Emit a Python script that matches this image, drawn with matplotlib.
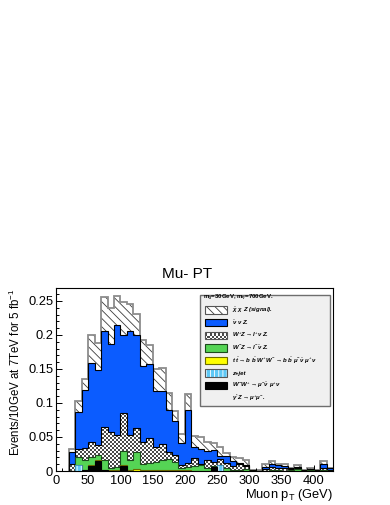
import numpy as np
import matplotlib
matplotlib.use("Agg")
import matplotlib.pyplot as plt
from matplotlib.patches import Rectangle
from matplotlib.colors import ListedColormap

plt.rcParams['font.family'] = ['Liberation Sans', 'DejaVu Sans']
plt.rcParams['mathtext.fontset'] = 'custom'
plt.rcParams['mathtext.rm'] = 'Liberation Sans'
plt.rcParams['mathtext.it'] = 'Liberation Sans:italic:bold'
plt.rcParams['mathtext.bf'] = 'Liberation Sans:bold'
plt.rcParams['hatch.linewidth'] = 0.6

# 10 GeV bins, 20 -> 430 GeV
edges = np.arange(20, 440, 10)

# per-sample contributions (events / 10 GeV)
signal = [.005, .017, .016, .041, .040, .050, .052, .042, .048, .040, .031, .038, .027, .033,
          .034, .026, .015, .014, .023, .016, .017, .013, .010, .014, .005, .005, .007, .007,
          .001, .0005, .004, .003, .002, .004, .001, .003, .001, .002, 0, .003, 0]
nunuz = [.017, .053, .085, .116, .110, .141, .129, .162, .115, .153, .137, .112, .110, .081,
         .078, .061, .049, .032, .078, .016, .023, .014, .018, .005, .010, .008, .002, .001,
         .0005, .0005, .003, .005, .005, .003, .001, .001, .001, 0, .001, .006, .003]
wpz = [.011, .012, .018, .022, .015, .049, .053, .047, .055, .037, .035, .032, .036, .023,
       .024, .011, .011, .004, .006, .012, .001, .012, .005, .008, .008, .006, .008, .005,
       .0005, 0, .003, .005, .003, .004, .001, .002, 0, .002, 0, .004, .001]
wmz = [0, .012, .014, .012, .007, .014, .004, .005, .021, .014, .025, .009, .011, .012,
       .014, .016, .012, .004, .005, .007, .009, .004, .002, 0, .004, .001, .002, .003,
       0, 0, 0, .001, .001, 0, .002, .003, 0, .001, 0, .001, 0]
ttbar = [0, 0, .001, .002, .002, .001, .001, .001, .002, .002, .003, .002, .001, .001,
         .002, .001, .001, .001, .001, 0, 0, 0, 0, 0, 0, 0, 0, 0,
         0, 0, 0, 0, 0, 0, 0, 0, 0, 0, 0, 0, 0]
zjet = [0, .009, 0, 0, 0, 0, 0, 0, 0, 0, 0, 0, 0, 0, 0, 0, 0, 0, 0, 0, 0, 0, 0, .009,
        0, 0, 0, 0, 0, 0, 0, 0, 0, 0, 0, 0, 0, 0, 0, 0, 0]
ww = [0, 0, .001, .007, .014, .001, 0, 0, .007, 0, 0, 0, 0, 0, 0, 0, 0, 0, 0, 0, 0, 0,
      .006, 0, 0, 0, 0, 0, 0, 0, 0, 0, 0, 0, 0, 0, 0, 0, 0, 0, 0]

legend_labels = [
    r"$\bar{\chi}\ \chi\ Z$ (signal).",
    r"$\bar{\nu}\ \nu\ Z$.",
    r"$W^{+} Z \rightarrow l^{+} \nu\ Z$.",
    r"$W^{-} Z \rightarrow l^{-} \bar{\nu}\ Z$.",
    r"$t\ \bar{t} \rightarrow b\ \bar{b}\ W^{+} W^{-} \rightarrow b\ \bar{b}\ \mu^{-} \bar{\nu}\ \mu^{+} \nu$",
    "z+jet",
    r"$W^{-} W^{+} \rightarrow \mu^{-} \bar{\nu}\ \mu^{+} \nu$",
    r"$\gamma^{*} Z \rightarrow \mu^{+} \mu^{-}$.",
]
legend_header = r"m$_{\chi}$=30GeV, m$_{\eta}$=700GeV."

XMAX, YMAX = 430, 0.269

fig = plt.figure(figsize=(3.9, 5.05), dpi=100)
ax = fig.add_axes([56/390, 34/505, 277/390, 183/505])

# THStack style: cumulative sums, drawn from the top down
stack = [ww, zjet, ttbar, wmz, wpz, nunuz, signal]
cums = np.cumsum(np.array(stack), axis=0)
c_ww, c_zj, c_tt, c_wmz, c_wpz, c_nnz, c_sig = cums

board = np.add.outer(np.arange(92), np.arange(139)) % 2
chk_cmap = ListedColormap(['white', '#4a4a4a'])


def checker(clip, z):
    img = ax.imshow(board, cmap=chk_cmap, extent=(0, XMAX, 0, YMAX), aspect='auto',
                    interpolation='nearest', origin='lower', zorder=z)
    img.set_clip_path(clip)


# signal (hatched)
ax.stairs(c_sig, edges, baseline=0, fill=True, facecolor='white', edgecolor='#3c3c3c',
          hatch='\\\\\\\\', linewidth=0, zorder=1)
ax.stairs(c_sig, edges, baseline=0, color='#8c8c8c', linewidth=1.3, zorder=1.1)
# nu nu Z
ax.stairs(c_nnz, edges, baseline=0, fill=True, facecolor='#0b5cff', edgecolor='black',
          linewidth=0.8, zorder=2)
# W+ Z checkered
p = ax.stairs(c_wpz, edges, baseline=0, fill=True, facecolor='white', linewidth=0, zorder=3)
checker(p, 3.05)
ax.stairs(c_wpz, edges, baseline=0, color='black', linewidth=0.8, zorder=3.1)
# W- Z
ax.stairs(c_wmz, edges, baseline=0, fill=True, facecolor='#55d455', edgecolor='#1c4a1c',
          linewidth=0.8, zorder=4)
# ttbar
ax.stairs(c_tt, edges, baseline=0, fill=True, facecolor='#ffff00', edgecolor='#6b6b00',
          linewidth=0.8, zorder=5)
# z+jet
ax.stairs(c_zj, edges, baseline=0, fill=True, facecolor='#5ec8f5', edgecolor='white',
          hatch='||||', linewidth=0, zorder=6)
ax.stairs(c_zj, edges, baseline=0, color='#3a8ab0', linewidth=0.6, zorder=6.1)
# WW
ax.stairs(c_ww, edges, baseline=0, fill=True, facecolor='black', edgecolor='black',
          linewidth=0.8, zorder=7)

ax.set_xlim(0, XMAX)
ax.set_ylim(0, YMAX)
ax.set_xticks(np.arange(0, 401, 50))
ax.set_xticks(np.arange(0, XMAX + 1, 10), minor=True)
ax.set_yticks([0, 0.05, 0.1, 0.15, 0.2, 0.25], ['0', '0.05', '0.1', '0.15', '0.2', '0.25'])
ax.set_yticks(np.arange(0, 0.2691, 0.01), minor=True)
ax.tick_params(which='both', direction='in', labelsize=9.3, width=0.7, top=False, right=False)
ax.tick_params(which='major', length=4.5)
ax.tick_params(which='minor', length=2.2)
ax.tick_params(axis='y', pad=2)
ax.tick_params(axis='x', pad=3)
for s in ax.spines.values():
    s.set_linewidth(0.8)

ax.set_xlabel(r"Muon p$_\mathrm{T}$ (GeV)", fontsize=9.3, loc='right', labelpad=0)
ax.set_ylabel(r"Events/10GeV at 7TeV for 5 fb$^{-1}$", fontsize=8.3, loc='top', labelpad=4)
fig.text(186.7/390, 1 - 274/505, "Mu- PT", fontsize=11, ha='center', va='center')

# legend box (ROOT TLegend look)
bx0, by0, bw, bh = 0.52, 0.355, 0.469, 0.607
ax.add_patch(Rectangle((bx0, by0), bw, bh, transform=ax.transAxes, facecolor='#f0f0f0',
                       edgecolor='#6e6e6e', linewidth=1.0, zorder=10))
ax.text(0.532, 0.944, legend_header, transform=ax.transAxes, fontsize=4.3,
        fontweight='bold', va='center', ha='left', zorder=11)
rows = [0.880, 0.811, 0.742, 0.673, 0.604, 0.535, 0.466, 0.397]
sw_x, sw_w, sw_h = 0.538, 0.078, 0.04
styles = [
    dict(facecolor='white', edgecolor='#3c3c3c', hatch='\\\\\\\\'),
    dict(facecolor='#0b5cff', edgecolor='black'),
    None,
    dict(facecolor='#55d455', edgecolor='#1c4a1c'),
    dict(facecolor='#ffff00', edgecolor='#6b6b00'),
    dict(facecolor='#5ec8f5', edgecolor='white', hatch='||||'),
    dict(facecolor='black', edgecolor='black'),
]
for i, (y, lab) in enumerate(zip(rows, legend_labels)):
    if i < len(styles):
        r = Rectangle((sw_x, y - sw_h/2), sw_w, sw_h, transform=ax.transAxes,
                      linewidth=0 if i in (0, 5) else 0.8, zorder=11,
                      **(styles[i] or dict(facecolor='white')))
        ax.add_patch(r)
        if styles[i] is None:
            checker(r, 11.05)
        if i in (0, 2, 5):
            ax.add_patch(Rectangle((sw_x, y - sw_h/2), sw_w, sw_h, transform=ax.transAxes,
                                   facecolor='none', edgecolor='#555555', linewidth=0.8,
                                   zorder=11.1))
    ax.text(0.634, y, lab, transform=ax.transAxes, fontsize=4.3, fontweight='bold',
            style='italic', va='center', ha='left', zorder=11)

fig.savefig("out.png", dpi=100)
